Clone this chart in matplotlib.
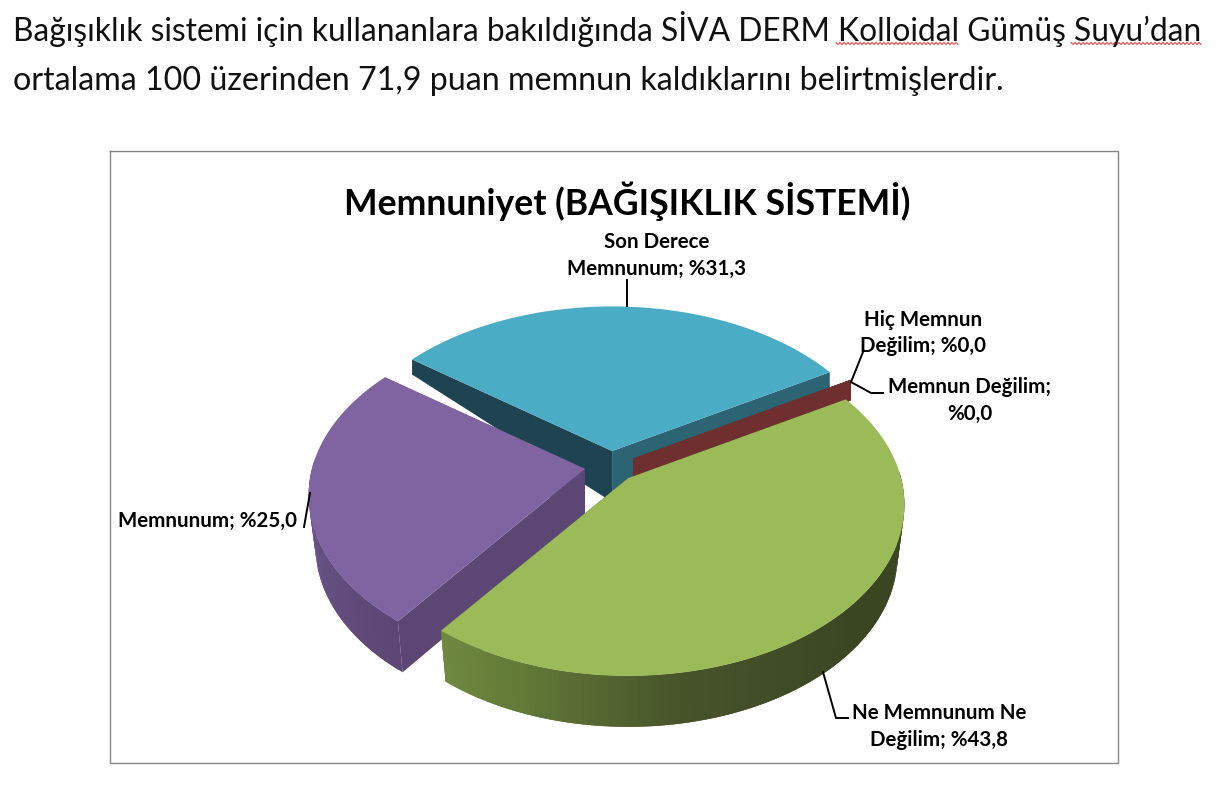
import numpy as np
import matplotlib
matplotlib.use("Agg")
import matplotlib.pyplot as plt
from matplotlib.collections import PolyCollection
from matplotlib.colors import to_rgb

# chart data, clockwise from the first slice
categories = ["Son Derece Memnunum", "Hiç Memnun Değilim", "Memnun Değilim",
              "Ne Memnunum Ne Değilim", "Memnunum"]
values = [31.3, 0.0, 0.0, 43.8, 25.0]
top_colors = ["#4bacc6", "#702f2f", "#702f2f", "#9bbb59", "#8064a2"]
cut_colors = [("#1f4451", "#2c6474"), ("#702f2f", "#702f2f"), ("#702f2f", "#702f2f"),
              ("#4a5a2a", "#4a5a2a"), ("#5b4674", "#5b4674")]
# rim shading: angle (deg) -> colour of the side wall
rim_shades = [
    ([0, 360], ["#2c6474", "#2c6474"]),
    ([0, 360], ["#702f2f", "#702f2f"]),
    ([0, 360], ["#702f2f", "#702f2f"]),
    ([60, 130, 170, 200, 217], ["#3a4522", "#3a4522", "#47532a", "#637a38", "#70893f"]),
    ([217, 240, 270, 307], ["#5b4674", "#634e80", "#6f5790", "#6f5790"]),
]

heading = ["Bağışıklık sistemi için kullananlara bakıldığında SİVA DERM Kolloidal Gümüş Suyu’dan",
           "ortalama 100 üzerinden 71,9 puan memnun kaldıklarını belirtmişlerdir."]
chart_title = "Memnuniyet (BAĞIŞIKLIK SİSTEMİ)"

# pie geometry in pixels
START = -53.2
CX, CY = 610.7, 466.6
EXPLODE = 26
RX, RY = 273, 167
PERSP = 0.155
DEPTH = 51

counter = [10]


def z():
    counter[0] += 1
    return counter[0]


def project(theta, ax0, ay0):
    t = np.radians(theta)
    u, v = np.sin(t), np.cos(t)
    w = 1 / (1 + PERSP * v)
    return ax0 + RX * u * w, ay0 - RY * v * w, v


def drop(x, y, v, ax0):
    # lower edge of the wall, thinner towards the back, a bit narrower at the front
    v = np.asarray(v, dtype=float)
    h = np.where(v > 0, np.clip(DEPTH - 60 * v, 5, None), DEPTH)
    return ax0 + (x - ax0) * np.where(v > 0, 1.0, 0.975), y + h


def draw_slice(ax, start, sweep, top, cuts, shade):
    mid = np.radians(start + sweep / 2)
    ax0 = CX + EXPLODE * np.sin(mid)
    ay0 = CY - EXPLODE * 0.6 * np.cos(mid)
    th = np.arange(start, start + sweep + 0.5, 1.0) if sweep > 0 else np.array([start])
    if sweep > 0:
        th[-1] = start + sweep
    x, y, v = project(th, ax0, ay0)
    bx, by = drop(x, y, v, ax0)
    apex_by = ay0 + DEPTH

    # cut faces
    ax.fill([ax0, x[0], bx[0], ax0], [ay0, y[0], by[0], apex_by], color=cuts[0], lw=0, zorder=z())
    ax.fill([ax0, x[-1], bx[-1], ax0], [ay0, y[-1], by[-1], apex_by], color=cuts[1], lw=0, zorder=z())

    if sweep <= 0:
        return

    # outer wall as overlapping strips so the shading can change along the rim,
    # only the front part shows
    quads, cols = [], []
    rgb = [to_rgb(c) for c in shade[1]]
    for i in range(len(th) - 1):
        if v[i] > 0.05:
            continue
        j = min(i + 2, len(th) - 1)
        quads.append([(x[i], y[i]), (x[j], y[j]), (bx[j], by[j]), (bx[i], by[i])])
        a = (th[i] + 0.5) % 360
        cols.append([np.interp(a, shade[0], [c[k] for c in rgb]) for k in range(3)])
    if quads:
        ax.add_collection(PolyCollection(quads, facecolors=cols, edgecolors="none", zorder=z()))
    ax.fill(np.r_[ax0, x], np.r_[ay0, y], color=top, lw=0, zorder=z())


order = [0, 1, 2, 4, 3]  # back slices first, the big front one last

fig = plt.figure(figsize=(12.22, 8.07), dpi=100)
ax = fig.add_axes([0, 0, 1, 1])
ax.set_xlim(0, 1222)
ax.set_ylim(807, 0)
ax.axis("off")

# text above the chart
ax.text(13, 29, heading[0], fontsize=22.85, family="Lato", va="center", ha="left", color="#111111")
ax.text(13, 81, heading[1], fontsize=23.2, family="Lato", va="center", ha="left", color="#111111")

# spell check squiggles
for x0, x1 in [(836, 958), (1071, 1201)]:
    sx = np.arange(x0, x1 + 1, 2)
    sy = 42.5 + np.arange(len(sx)) % 2 * 2
    ax.plot(sx, sy, color="#e03030", lw=0.7)

# chart frame
ax.plot([110, 1118, 1118, 110, 110], [151, 151, 763, 763, 151], color="#868686", lw=1.0)
ax.text(627, 201, chart_title, fontsize=25.6, family="Lato", weight="bold", ha="center", va="center", color="black")

sweeps = [val / sum(values) * 360 for val in values]
starts = START + np.r_[0, np.cumsum(sweeps)[:-1]]
for i in order:
    draw_slice(ax, starts[i], sweeps[i], top_colors[i], cut_colors[i], rim_shades[i])

# data labels
pct = [f"%{val:.1f}".replace(".", ",") for val in values]
lab = dict(fontsize=14.8, family="Lato", weight="bold", ha="center", va="center", color="black", zorder=60)
ax.text(657, 242, "Son Derece", **lab)
ax.text(657, 269, f"Memnunum; {pct[0]}", **lab)
ax.text(923, 320, "Hiç Memnun", **lab)
ax.text(923, 346, f"Değilim; {pct[1]}", **lab)
ax.text(970, 387, "Memnun Değilim;", **lab)
ax.text(970, 414, pct[2], **lab)
ax.text(939, 713, "Ne Memnunum Ne", **lab)
ax.text(939, 740, f"Değilim; {pct[3]}", **lab)
ax.text(207, 521, f"Memnunum; {pct[4]}", **lab)

# leader lines
for lx, ly in [([627, 627], [306, 280]), ([851, 863], [382, 352]),
               ([851, 871, 883], [382, 393, 393]), ([304, 310], [527, 493]),
               ([823, 836, 848], [672, 718, 718])]:
    ax.plot(lx, ly, color="black", lw=1.4, zorder=61)

fig.savefig("out.png", dpi=100, facecolor="white")
